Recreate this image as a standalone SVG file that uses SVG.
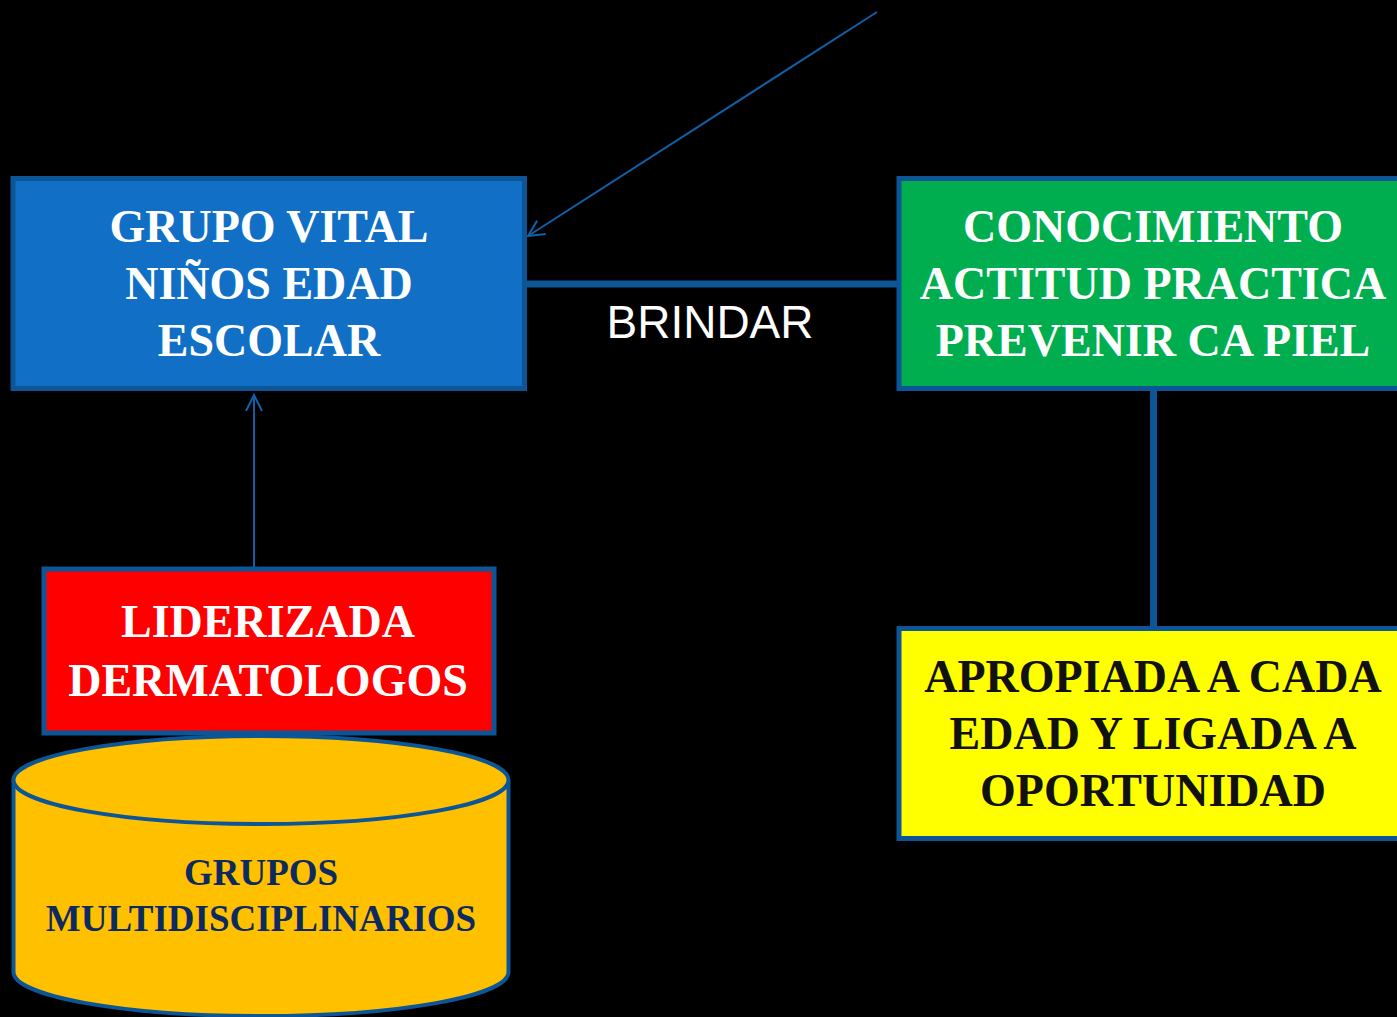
<svg xmlns="http://www.w3.org/2000/svg" width="1397" height="1017" viewBox="0 0 1397 1017">
<style>
.box{stroke:#0c5597;stroke-width:5}
.t{font-family:"Liberation Serif","Times New Roman",serif;font-weight:bold;font-size:46px;text-anchor:middle}
.w{fill:#ffffff}
.c{fill:#0d2a60;font-size:37px}
.conn{stroke:#0c5597;stroke-width:7;fill:none}
.arr{stroke:#1060a8;stroke-width:2;fill:none}
</style>
<defs>
<marker id="open" viewBox="0 0 20 20" refX="18" refY="10" markerWidth="20" markerHeight="20" markerUnits="userSpaceOnUse" orient="auto">
<path d="M2,2 L18,10 L2,18" fill="none" stroke="#1060a8" stroke-width="2"/>
</marker>
</defs>
<rect width="1397" height="1017" fill="#000000"/>
<g id="connectors">
<line class="conn" x1="527" y1="284" x2="897" y2="284"/>
<line class="conn" x1="1153.5" y1="391" x2="1153.5" y2="627"/>
<line class="arr" x1="254" y1="567" x2="254" y2="395" marker-end="url(#open)"/>
<line class="arr" x1="877" y1="12" x2="528" y2="236" marker-end="url(#open)"/>
<text x="710" y="338" font-family="'Liberation Sans',Arial,sans-serif" font-size="46" fill="#ffffff" text-anchor="middle">BRINDAR</text>
</g>
<g id="grupo-vital">
<rect class="box" x="13" y="178.5" width="511.5" height="210" fill="#1170c6"/>
<text class="t w" x="269" y="242">GRUPO VITAL</text>
<text class="t w" x="269" y="299">NIÑOS EDAD</text>
<text class="t w" x="269" y="356">ESCOLAR</text>
</g>
<g id="conocimiento">
<rect class="box" x="899" y="178.5" width="510" height="210" fill="#00ae50"/>
<text class="t w" x="1153" y="242">CONOCIMIENTO</text>
<text class="t w" x="1153" y="299">ACTITUD PRACTICA</text>
<text class="t w" x="1153" y="356">PREVENIR CA PIEL</text>
</g>
<g id="apropiada">
<rect class="box" x="899" y="628.5" width="510" height="210" fill="#ffff00"/>
<text class="t" fill="#111111" x="1153" y="692">APROPIADA A CADA</text>
<text class="t" fill="#111111" x="1153" y="749">EDAD Y LIGADA A</text>
<text class="t" fill="#111111" x="1153" y="806">OPORTUNIDAD</text>
</g>
<g id="liderizada">
<rect class="box" x="44" y="569" width="450" height="164" fill="#ff0000"/>
<text class="t w" x="268" y="637">LIDERIZADA</text>
<text class="t w" x="268" y="696">DERMATOLOGOS</text>
</g>
<g id="grupos">
<path d="M13.5,780 L13.5,972 A247.5,44 0 0 0 508.5,972 L508.5,780" fill="#ffc000" stroke="#0c5597" stroke-width="4"/>
<ellipse cx="261" cy="780" rx="247.5" ry="44" fill="#ffc000" stroke="#0c5597" stroke-width="4"/>
<text class="t c" x="261" y="885">GRUPOS</text>
<text class="t c" x="261" y="931">MULTIDISCIPLINARIOS</text>
</g>
</svg>
